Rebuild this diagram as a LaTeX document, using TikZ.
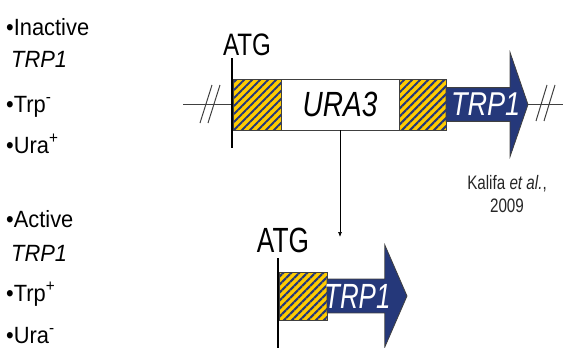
\documentclass[tikz,border=0pt]{standalone}
\usepackage{fontspec}
\setmainfont{Liberation Sans}
\usetikzlibrary{arrows.meta,positioning,shapes.arrows,patterns.meta}
\definecolor{geneblue}{RGB}{37,56,122}
\definecolor{hatchgold}{RGB}{255,204,0}
\definecolor{dnagray}{RGB}{64,64,64}
\newcommand{\squeeze}[2][0.8]{\scalebox{#1}[1]{#2}}
\newcommand{\fs}[1]{\fontsize{#1}{#1}\selectfont}

\begin{document}
\begin{tikzpicture}[
  x=1pt, y=-1pt,
  hatchbox/.style={draw=dnagray, line width=0.8pt, outer sep=0pt, inner sep=0pt,
    minimum width=48pt, minimum height=51pt, preaction={fill=hatchgold},
    pattern={Lines[angle=45, distance=5.66pt, line width=2pt]}, pattern color=geneblue},
  orfbox/.style={draw=dnagray, line width=0.8pt, fill=white, outer sep=0pt, inner sep=0pt,
    minimum height=51pt, font=\fs{35}\itshape},
  genearrow/.style={single arrow, draw=dnagray, line width=0.8pt, fill=geneblue, text=white,
    outer sep=0pt, inner sep=1pt, anchor=tail, font=\fs{33}\itshape},
  dna/.style={dnagray, line width=1.3pt},
  atgbar/.style={black, line width=1.8pt},
  atg/.style={anchor=base, inner sep=0pt},
  side/.style={anchor=base west, inner sep=0pt, font=\fs{23.5}},
]
  \useasboundingbox (0,0) rectangle (563,348);

  % Phenotypes
  \node[side] (inact) at (6,35) {\squeeze[0.93]{•Inactive}};
  \node[side] (inactg) at (11,67) {\squeeze[0.93]{\textit{TRP1}}};
  \node[side] (trpm) at (6,112) {\squeeze[0.93]{•Trp\textsuperscript{-}}};
  \node[side] (urap) at (6,153) {\squeeze[0.93]{•Ura\textsuperscript{+}}};
  \node[side] (act) at (6,227) {\squeeze[0.93]{•Active}};
  \node[side] (actg) at (11,261) {\squeeze[0.93]{\textit{TRP1}}};
  \node[side] (trpp) at (6,301) {\squeeze[0.93]{•Trp\textsuperscript{+}}};
  \node[side] (uram) at (6,343) {\squeeze[0.93]{•Ura\textsuperscript{-}}};

  % Inactive allele
  \node[hatchbox] (h1) at (257,104.5) {};
  \node[orfbox, minimum width=118pt, right=0pt of h1] (ura) {\squeeze{URA3}};
  \node[hatchbox, minimum width=47pt, right=0pt of ura] (h2) {};
  \node[genearrow, minimum height=82pt, minimum width=104pt,
    single arrow head extend=26.5pt, single arrow tip angle=142] (trp1) at (h2.east) {\squeeze[0.82]{TRP1}\hspace*{-3pt}};

  \coordinate (lend) at (183,104.5);
  \coordinate (rend) at (563,104.5);
  \draw[dna] (lend) -- (h1.west);
  \draw[dna] (trp1.tip) -- (rend);
  \draw[dna, line width=1pt] (200,123) -- (212,85) (208,123) -- (220,85);
  \draw[dna, line width=1pt] (536,121) -- (547,85) (544,121) -- (555,85);

  \draw[atgbar] (h1.west) ++(-1,-46.5) -- ++(0,90);
  \node[atg, font=\fs{31}] (atg1) at (247,55) {\squeeze[0.78]{ATG}};

  \node[align=center, inner sep=0pt, font=\fs{19.5}, text=black!85] (ref) at (507,194)
    {\squeeze[0.78]{Kalifa \textit{et al.},}\\[4pt]\squeeze[0.78]{2009}};

  % Excision
  \coordinate (excise) at (340,237);
  \draw[black, line width=0.7pt, -{Latex[length=5pt, width=4pt]}] (ura.south) -- (excise);

  % Active allele
  \node[hatchbox, minimum height=48pt] (h3) at (303,296) {};
  \node[genearrow, minimum height=80pt, minimum width=102pt, font=\fs{35}\itshape,
    single arrow head extend=27pt, single arrow tip angle=133] (trp2) at (h3.east) {\hspace*{-12pt}\squeeze[0.74]{TRP1}};
  \draw[atgbar] (h3.west) ++(-1,-38) -- ++(0,95);
  \node[atg, font=\fs{35}] (atg2) at (283,252) {\squeeze[0.75]{ATG}};
\end{tikzpicture}
\end{document}
